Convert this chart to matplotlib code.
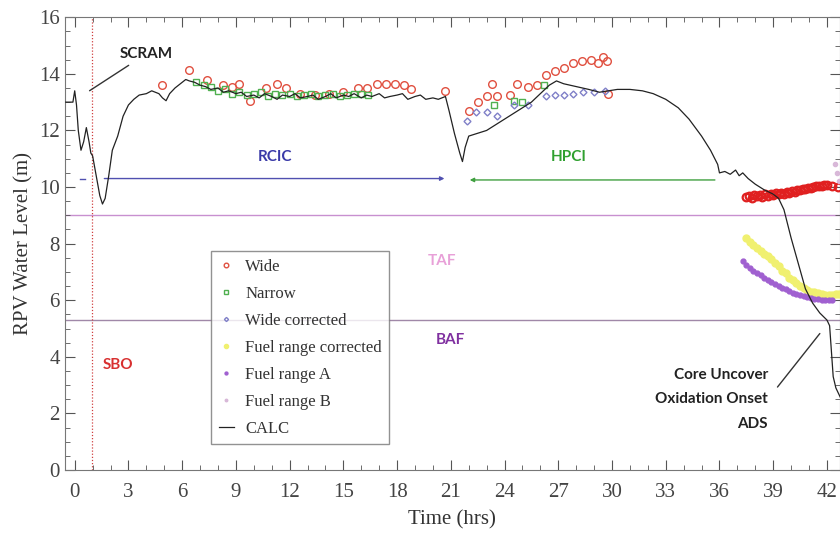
import matplotlib.pyplot as plt
import numpy as np
from matplotlib.ticker import MultipleLocator

plt.rcParams["font.family"] = ["Liberation Serif", "DejaVu Serif"]

# CALC curve as (hrs, m) pairs
calc_points = [
    (-0.5, 13.0), (-0.1, 13.0), (0.0, 13.4), (0.1, 12.9), (0.2, 12.0), (0.35, 11.3), (0.5, 11.6),
    (0.65, 12.1), (0.8, 11.6), (0.9, 11.2), (1.0, 11.1), (1.2, 10.4), (1.4, 9.7), (1.55, 9.4),
    (1.7, 9.6), (1.9, 10.4), (2.1, 11.3), (2.4, 11.8), (2.7, 12.5), (3.0, 12.9), (3.3, 13.1),
    (3.6, 13.25), (4.0, 13.3), (4.3, 13.4), (4.7, 13.3), (4.9, 13.15), (5.1, 13.05), (5.3, 13.3),
    (5.6, 13.5), (5.9, 13.65), (6.2, 13.8), (6.4, 13.75), (6.7, 13.7), (7.0, 13.6), (7.3, 13.55),
    (7.6, 13.45), (8.0, 13.5), (8.3, 13.35), (8.6, 13.4), (9.0, 13.3), (9.3, 13.35), (9.6, 13.2),
    (10.0, 13.25), (10.3, 13.15), (10.6, 13.3), (11.0, 13.2), (11.3, 13.1), (11.6, 13.25),
    (12.0, 13.2), (12.3, 13.3), (12.6, 13.15), (13.0, 13.2), (13.3, 13.25), (13.6, 13.1),
    (14.0, 13.2), (14.3, 13.3), (14.6, 13.15), (15.0, 13.25), (15.3, 13.2), (15.6, 13.3),
    (16.0, 13.15), (16.3, 13.25), (16.6, 13.2), (17.0, 13.3), (17.3, 13.15), (17.6, 13.2),
    (18.0, 13.25), (18.3, 13.3), (18.6, 13.1), (19.0, 13.2), (19.3, 13.25), (19.6, 13.1),
    (20.0, 13.15), (20.3, 13.1), (20.7, 13.2), (20.9, 12.7), (21.2, 11.9), (21.5, 11.2),
    (21.65, 10.9), (21.8, 11.4), (22.0, 11.8), (22.5, 11.9), (23.0, 12.0), (23.5, 12.2),
    (24.0, 12.4), (24.5, 12.6), (25.0, 12.8), (25.5, 13.0), (26.0, 13.3), (26.5, 13.6),
    (26.9, 13.75), (27.3, 13.65), (28.0, 13.55), (28.7, 13.45), (29.3, 13.35), (29.8, 13.4),
    (30.3, 13.45), (31.0, 13.45), (31.7, 13.4), (32.3, 13.3), (33.0, 13.1), (33.7, 12.8),
    (34.3, 12.4), (35.0, 11.8), (35.5, 11.3), (35.9, 10.8), (36.0, 10.5), (36.3, 10.55),
    (36.6, 10.45), (36.9, 10.6), (37.1, 10.4), (37.3, 10.5), (37.6, 10.3), (38.0, 10.1),
    (38.5, 9.9), (39.0, 9.75), (39.3, 9.6), (39.6, 9.2), (40.0, 8.2), (40.4, 7.3), (40.8, 6.4),
    (41.2, 5.9), (41.6, 5.55), (42.0, 5.3), (42.15, 5.1), (42.25, 4.2), (42.35, 3.3),
    (42.5, 2.9), (42.8, 2.5),
]
calc_t, calc_v = zip(*calc_points)

wide_t = [4.9, 6.4, 7.4, 8.3, 8.8, 9.2, 9.8, 10.7, 11.3, 11.8, 12.6, 13.4, 14.2, 15.0, 15.8, 16.3,
          16.9, 17.4, 17.9, 18.4, 18.8, 20.7, 22.0, 22.5, 23.0, 23.3, 23.6, 24.3, 24.7, 25.3, 25.8,
          26.3, 26.8, 27.3, 27.8, 28.3, 28.8, 29.2, 29.5, 29.7, 29.8]
wide_v = [13.6, 14.15, 13.8, 13.6, 13.55, 13.65, 13.05, 13.5, 13.65, 13.5, 13.3, 13.25, 13.3, 13.35,
          13.5, 13.5, 13.65, 13.65, 13.65, 13.6, 13.45, 13.4, 12.7, 13.0, 13.2, 13.65, 13.2, 13.25,
          13.65, 13.55, 13.6, 13.95, 14.1, 14.2, 14.4, 14.45, 14.5, 14.4, 14.6, 14.45, 13.3]
wide_late_t = [37.5, 37.65, 37.8, 37.95, 38.1, 38.25, 38.4, 38.55, 38.7, 38.85, 39.0, 39.15, 39.3,
               39.45, 39.6, 39.75, 39.9, 40.05, 40.2, 40.35, 40.5, 40.65, 40.8, 40.95, 41.1, 41.25,
               41.4, 41.55, 41.7, 41.85, 42.0, 42.3, 42.6]
wide_late_v = [9.65, 9.7, 9.62, 9.72, 9.68, 9.72, 9.66, 9.74, 9.7, 9.76, 9.72, 9.78, 9.75, 9.8,
               9.77, 9.84, 9.8, 9.86, 9.84, 9.9, 9.88, 9.93, 9.92, 9.97, 9.96, 10.0, 10.02, 10.04,
               10.05, 10.07, 10.08, 10.02, 10.0]

narrow_t = [6.8, 7.2, 7.6, 8.0, 8.4, 8.8, 9.2, 9.6, 10.0, 10.4, 10.8, 11.2, 11.6, 12.0, 12.4, 12.8,
            13.2, 13.6, 14.0, 14.4, 14.8, 15.2, 15.6, 16.0, 16.4, 23.4, 24.5, 25.0, 26.2]
narrow_v = [13.7, 13.6, 13.55, 13.4, 13.45, 13.3, 13.35, 13.25, 13.3, 13.35, 13.2, 13.3, 13.25, 13.3,
            13.2, 13.25, 13.3, 13.2, 13.25, 13.3, 13.2, 13.25, 13.3, 13.3, 13.25, 12.9, 13.05, 13.0,
            13.6]

wcorr_t = [21.9, 22.4, 23.0, 23.6, 24.5, 25.3, 26.3, 26.8, 27.3, 27.8, 28.4, 29.0, 29.6]
wcorr_v = [12.35, 12.65, 12.65, 12.5, 12.9, 12.9, 13.2, 13.25, 13.25, 13.3, 13.35, 13.35, 13.4]

fuelc_t = [37.5, 37.7, 37.9, 38.1, 38.3, 38.5, 38.7, 38.9, 39.1, 39.3, 39.5, 39.7, 39.9, 40.1,
           40.3, 40.5, 40.7, 40.9, 41.1, 41.3, 41.5, 41.7, 41.9, 42.1, 42.3, 42.5, 42.7]
fuelc_v = [8.2, 8.05, 7.95, 7.85, 7.75, 7.65, 7.55, 7.45, 7.3, 7.2, 7.05, 6.95, 6.8, 6.7, 6.6, 6.5,
           6.42, 6.36, 6.3, 6.28, 6.25, 6.22, 6.2, 6.2, 6.2, 6.22, 6.22]

fuela_t = [37.3, 37.5, 37.7, 37.9, 38.1, 38.3, 38.5, 38.7, 38.9, 39.1, 39.3, 39.5, 39.7, 39.9,
           40.1, 40.3, 40.5, 40.7, 40.9, 41.1, 41.3, 41.5, 41.7, 41.9, 42.1, 42.3]
fuela_v = [7.4, 7.25, 7.15, 7.05, 6.95, 6.88, 6.8, 6.72, 6.65, 6.58, 6.5, 6.44, 6.38, 6.32, 6.26,
           6.22, 6.18, 6.14, 6.1, 6.07, 6.05, 6.03, 6.02, 6.0, 6.0, 6.0]

fuelb_t = [42.45, 42.55, 42.65]
fuelb_v = [10.8, 10.5, 10.2]

taf_level, baf_level = 9.0, 5.3
sbo_time = 0.95

fig = plt.figure(figsize=(8.4, 5.39), dpi=100)
ax = fig.add_axes([0.077, 0.128, 0.923, 0.840])

ax.axhline(taf_level, color="#c890d0", lw=1.0, zorder=1)
ax.axhline(baf_level, color="#a088a8", lw=1.0, zorder=1)
ax.axvline(sbo_time, color="#d04040", lw=0.9, ls=(0, (1, 1.5)), zorder=1)

# RCIC / HPCI spans
ax.annotate("", xy=(20.8, 10.3), xytext=(1.5, 10.3),
            arrowprops=dict(arrowstyle="-|>", color="#5050b0", lw=1.0, mutation_scale=6))
ax.plot([0.3, 0.6], [10.3, 10.3], color="#5050b0", lw=1.0)
ax.annotate("", xy=(21.9, 10.25), xytext=(35.9, 10.25),
            arrowprops=dict(arrowstyle="-|>", color="#40a040", lw=1.0, mutation_scale=6))

ax.plot(wide_t, wide_v, ls="none", marker="o", ms=5.5, mfc="none",
        mec="#e05040", mew=1.0, label="Wide", zorder=3)
ax.plot(wide_late_t, wide_late_v, ls="none", marker="o", ms=5.5, mfc="none",
        mec="#e02020", mew=1.6, zorder=3)
ax.plot(narrow_t, narrow_v, ls="none", marker="s", ms=4, mfc="none", mec="#50b050", mew=1.0,
        label="Narrow", zorder=3)
ax.plot(wcorr_t, wcorr_v, ls="none", marker="D", ms=3.5, mfc="none", mec="#8080c8", mew=1.0,
        label="Wide corrected", zorder=3)
ax.plot(fuelc_t, fuelc_v, ls="none", marker="o", ms=5, mfc="#f0f070", mec="#f0f070",
        label="Fuel range corrected", zorder=3)
ax.plot(fuela_t, fuela_v, ls="none", marker="o", ms=3.5, mfc="#a060d0", mec="#a060d0",
        label="Fuel range A", zorder=3)
ax.plot(fuelb_t, fuelb_v, ls="none", marker="o", ms=3, mfc="#d8b8d8", mec="#d8b8d8",
        label="Fuel range B", zorder=3)
ax.plot(calc_t, calc_v, color="#222222", lw=0.9, label="CALC", zorder=4)

bold = dict(family=["Lato", "DejaVu Sans"], fontweight="bold", fontsize=11)
ax.text(11.2, 11.05, "RCIC", color="#3a3aa8", ha="center", va="center", **bold)
ax.text(27.6, 11.05, "HPCI", color="#30a030", ha="center", va="center", **bold)
ax.text(20.5, 7.4, "TAF", color="#e8a0d8", ha="center", va="center", **bold)
ax.text(21.0, 4.6, "BAF", color="#8030a0", ha="center", va="center", **bold)
ax.text(2.4, 3.7, "SBO", color="#d83030", ha="center", va="center", **bold)
ax.annotate("SCRAM", xy=(0.7, 13.35), xytext=(2.5, 14.7), color="#222222", ha="left",
            va="center", arrowprops=dict(arrowstyle="-", color="#333333", lw=1.0), **bold)
ax.annotate("Core Uncover\nOxidation Onset\nADS", xy=(41.7, 4.9), xytext=(38.7, 2.5),
            color="#222222", ha="right", va="center", linespacing=1.95,
            arrowprops=dict(arrowstyle="-", color="#333333", lw=1.0, relpos=(1.0, 0.5),
                            shrinkA=8), **bold)

ax.set_xlim(-0.56, 42.73)
ax.set_ylim(0, 16)
ax.xaxis.set_major_locator(MultipleLocator(3))
ax.xaxis.set_minor_locator(MultipleLocator(1))
ax.yaxis.set_major_locator(MultipleLocator(2))
ax.yaxis.set_minor_locator(MultipleLocator(0.5))
ax.tick_params(which="both", direction="in", top=True, right=True, colors="#555555",
               labelcolor="#444444", labelsize=15)
ax.tick_params(axis="x", pad=9)
ax.tick_params(which="major", length=7)
ax.tick_params(which="minor", length=3.5)
for s in ax.spines.values():
    s.set_color("#777777")

ax.set_xlabel("Time (hrs)", fontsize=15, color="#333333", labelpad=6)
ax.set_ylabel("RPV Water Level (m)", fontsize=15, color="#333333", labelpad=4)

leg = ax.legend(loc="upper left", bbox_to_anchor=(0.178, 0.502), fontsize=12, frameon=True,
                fancybox=False, edgecolor="#777777", handlelength=0.9, handletextpad=0.7,
                borderpad=0.45, labelspacing=0.66, markerscale=0.6)
leg.get_frame().set_linewidth(1.0)
for t in leg.get_texts():
    t.set_color("#333333")

fig.savefig("out.png", dpi=100)
